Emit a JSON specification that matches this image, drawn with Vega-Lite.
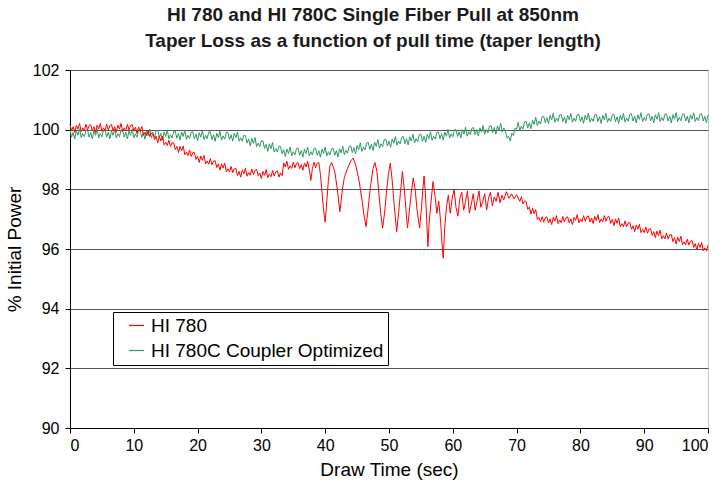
{
  "$schema": "https://vega.github.io/schema/vega-lite/v6.json",
  "width": 638,
  "height": 358,
  "autosize": "none",
  "padding": {"left": 70, "top": 70, "right": 14, "bottom": 59},
  "background": "white",
  "title": {
    "text": ["HI 780 and HI 780C Single Fiber Pull at 850nm", "Taper Loss as a function of pull time (taper length)"],
    "font": "Liberation Sans",
    "fontSize": 19,
    "fontWeight": "bold",
    "color": "#1a1a1a",
    "lineHeight": 26,
    "anchor": "middle",
    "frame": "group",
    "dx": -16,
    "offset": 11
  },
  "config": {
    "view": {"stroke": "#c8c8c8", "strokeWidth": 1},
    "axis": {
      "labelFont": "Liberation Sans",
      "titleFont": "Liberation Sans",
      "labelFontSize": 16,
      "titleFontSize": 19,
      "titleFontWeight": "normal",
      "labelColor": "#000",
      "titleColor": "#000",
      "domainColor": "#000",
      "tickColor": "#000",
      "tickSize": 5
    },
    "legend": {"labelFont": "Liberation Sans"}
  },
  "datasets": {
    "red": [
      {"t":0,"p":100.17},{"t":0.25,"p":99.96},{"t":0.5,"p":100.10},{"t":0.75,"p":99.91},{"t":1,"p":100.15},{"t":1.25,"p":100.02},{"t":1.5,"p":100.21},{"t":1.75,"p":99.94},{"t":2,"p":100.06},{"t":2.25,"p":99.97},{"t":2.5,"p":100.18},{"t":2.75,"p":99.99},{"t":3,"p":100.14},
      {"t":3.25,"p":100.17},{"t":3.5,"p":99.96},{"t":3.75,"p":100.10},{"t":4,"p":99.91},{"t":4.25,"p":100.15},{"t":4.5,"p":100.02},{"t":4.75,"p":100.21},{"t":5,"p":99.94},{"t":5.25,"p":100.06},{"t":5.5,"p":99.97},{"t":5.75,"p":100.18},{"t":6,"p":99.99},{"t":6.25,"p":100.14},
      {"t":6.5,"p":100.17},{"t":6.75,"p":99.96},{"t":7,"p":100.10},{"t":7.25,"p":99.91},{"t":7.5,"p":100.15},{"t":7.75,"p":100.02},{"t":8,"p":100.21},{"t":8.25,"p":99.94},{"t":8.5,"p":100.06},{"t":8.75,"p":99.97},{"t":9,"p":100.18},{"t":9.25,"p":99.99},{"t":9.5,"p":100.14},
      {"t":9.75,"p":100.17},{"t":10,"p":99.96},{"t":10.25,"p":100.08},{"t":10.5,"p":99.87},{"t":10.75,"p":100.09},{"t":11,"p":99.94},{"t":11.25,"p":100.11},{"t":11.5,"p":99.81},{"t":11.75,"p":99.91},{"t":12,"p":99.80},
      {"t":12.25,"p":99.98},{"t":12.5,"p":99.77},{"t":12.75,"p":99.89},{"t":13,"p":99.90},{"t":13.25,"p":99.66},{"t":13.5,"p":99.78},{"t":13.75,"p":99.56},{"t":14,"p":99.78},{"t":14.25,"p":99.62},{"t":14.5,"p":99.78},{"t":14.75,"p":99.49},{"t":15,"p":99.58},{"t":15.25,"p":99.47},{"t":15.5,"p":99.65},{"t":15.75,"p":99.44},{"t":16,"p":99.56},
      {"t":16.25,"p":99.56},{"t":16.5,"p":99.33},{"t":16.75,"p":99.44},{"t":17,"p":99.23},{"t":17.25,"p":99.44},{"t":17.5,"p":99.29},{"t":17.75,"p":99.45},{"t":18,"p":99.16},{"t":18.25,"p":99.25},{"t":18.5,"p":99.13},{"t":18.75,"p":99.32},{"t":19,"p":99.10},{"t":19.25,"p":99.23},{"t":19.5,"p":99.23},{"t":19.75,"p":99.00},{"t":20,"p":99.11},
      {"t":20.25,"p":98.90},{"t":20.5,"p":99.12},{"t":20.75,"p":98.97},{"t":21,"p":99.14},{"t":21.25,"p":98.85},{"t":21.5,"p":98.95},{"t":21.75,"p":98.84},{"t":22,"p":99.03},{"t":22.25,"p":98.82},{"t":22.5,"p":98.95},{"t":22.75,"p":98.96},{"t":23,"p":98.73},
      {"t":23.25,"p":98.85},{"t":23.5,"p":98.64},{"t":23.75,"p":98.86},{"t":24,"p":98.71},{"t":24.25,"p":98.88},{"t":24.5,"p":98.59},{"t":24.75,"p":98.69},{"t":25,"p":98.58},{"t":25.25,"p":98.77},{"t":25.5,"p":98.56},{"t":25.75,"p":98.69},{"t":26,"p":98.70},
      {"t":26.25,"p":98.46},{"t":26.5,"p":98.60},{"t":26.75,"p":98.41},{"t":27,"p":98.65},{"t":27.25,"p":98.52},{"t":27.5,"p":98.71},{"t":27.75,"p":98.44},{"t":28,"p":98.56},{"t":28.25,"p":98.47},{"t":28.5,"p":98.68},{"t":28.75,"p":98.49},{"t":29,"p":98.64},{"t":29.25,"p":98.67},{"t":29.5,"p":98.46},
      {"t":29.75,"p":98.55},{"t":30,"p":98.36},{"t":30.25,"p":98.60},{"t":30.5,"p":98.47},{"t":30.75,"p":98.66},{"t":31,"p":98.39},{"t":31.25,"p":98.51},{"t":31.5,"p":98.42},{"t":31.75,"p":98.63},{"t":32,"p":98.44},{"t":32.25,"p":98.59},{"t":32.5,"p":98.62},{"t":32.75,"p":98.41},{"t":33,"p":98.55},
      {"t":33.25,"p":98.46},{"t":33.5,"p":98.88},{"t":33.75,"p":98.75},{"t":34,"p":98.94},{"t":34.25,"p":98.67},{"t":34.5,"p":98.79},{"t":34.75,"p":98.70},{"t":35,"p":98.91},{"t":35.25,"p":98.72},{"t":35.5,"p":98.87},{"t":35.75,"p":98.90},{"t":36,"p":98.69},
      {"t":36.25,"p":98.83},{"t":36.5,"p":98.64},{"t":36.75,"p":98.88},{"t":37,"p":98.75},{"t":37.25,"p":98.94},{"t":37.5,"p":98.67},{"t":37.75,"p":98.30},{"t":38,"p":98.70},{"t":38.25,"p":98.91},{"t":38.5,"p":98.72},{"t":38.75,"p":98.87},{"t":39,"p":98.90},
      {"t":39.25,"p":98.5},{"t":39.5,"p":97.9},{"t":39.75,"p":97.3},{"t":40.0,"p":96.9},{"t":40.25,"p":97.6},{"t":40.5,"p":98.3},{"t":40.75,"p":98.8},{"t":41.0,"p":98.9},{"t":41.5,"p":98.6},{"t":41.9,"p":98.0},{"t":42.3,"p":97.25},{"t":42.7,"p":98.0},{"t":43.0,"p":98.4},{"t":43.5,"p":98.7},{"t":44.0,"p":98.95},{"t":44.4,"p":99.05},{"t":44.8,"p":98.8},{"t":45.3,"p":98.3},{"t":45.8,"p":97.6},{"t":46.1,"p":97.1},
      {"t":46.4,"p":96.75},{"t":46.7,"p":97.3},{"t":47.1,"p":98.1},{"t":47.5,"p":98.7},{"t":47.8,"p":98.9},{"t":48.1,"p":98.6},{"t":48.4,"p":97.9},{"t":48.7,"p":97.2},{"t":49.0,"p":96.7},{"t":49.3,"p":97.2},{"t":49.6,"p":97.9},{"t":49.9,"p":98.5},{"t":50.2,"p":98.88},{"t":50.5,"p":98.3},{"t":50.8,"p":97.5},{"t":51.2,"p":96.58},{"t":51.5,"p":97.2},{"t":51.8,"p":97.9},{"t":52.1,"p":98.6},{"t":52.4,"p":98.0},
      {"t":52.7,"p":97.2},{"t":52.9,"p":96.7},{"t":53.2,"p":97.3},{"t":53.5,"p":97.9},{"t":53.8,"p":98.38},{"t":54.1,"p":98.0},{"t":54.4,"p":97.3},{"t":54.8,"p":96.7},{"t":55.1,"p":97.4},{"t":55.3,"p":98.0},{"t":55.5,"p":98.45},{"t":55.7,"p":97.9},{"t":55.9,"p":97.0},{"t":56.1,"p":96.08},{"t":56.3,"p":96.9},{"t":56.6,"p":97.6},{"t":56.9,"p":98.26},{"t":57.2,"p":97.8},{"t":57.5,"p":97.2},{"t":57.8,"p":97.6},
      {"t":58.1,"p":96.9},{"t":58.3,"p":96.2},{"t":58.5,"p":95.69},{"t":58.7,"p":96.6},{"t":59.0,"p":97.4},{"t":59.3,"p":97.8},{"t":59.6,"p":97.2},{"t":59.9,"p":97.7},{"t":60.2,"p":98.0},{"t":60.5,"p":97.4},{"t":60.8,"p":97.1},{"t":61.1,"p":97.7},{"t":61.4,"p":97.9},{"t":61.7,"p":97.3},{"t":62.0,"p":97.6},{"t":62.3,"p":97.95},{"t":62.6,"p":97.2},{"t":62.9,"p":97.5},{"t":63.2,"p":97.85},{"t":63.5,"p":97.3},
      {"t":63.8,"p":97.6},{"t":64.1,"p":97.95},{"t":64.4,"p":97.4},{"t":64.7,"p":97.6},{"t":65.0,"p":97.85},{"t":65.3,"p":97.3},{"t":65.6,"p":97.7},{"t":65.9,"p":97.9},{"t":66.2,"p":97.45},{"t":66.5,"p":97.75},{"t":66.8,"p":97.6},{"t":67.1,"p":97.9},{"t":67.4,"p":97.55},{"t":67.7,"p":97.8},{"t":68.0,"p":97.65},{"t":68.4,"p":97.92},{"t":68.8,"p":97.7},{"t":69.2,"p":97.85},{"t":69.6,"p":97.68},{"t":70.0,"p":97.82},
      {"t":70.5,"p":97.60},{"t":70.75,"p":97.75},{"t":71,"p":97.51},{"t":71.25,"p":97.61},{"t":71.5,"p":97.59},{"t":71.75,"p":97.33},{"t":72,"p":97.41},{"t":72.25,"p":97.17},{"t":72.5,"p":97.36},{"t":72.75,"p":97.18},{"t":73,"p":97.32},{"t":73.25,"p":96.99},{"t":73.5,"p":97.06},{"t":73.75,"p":96.92},{"t":74,"p":97.08},
      {"t":74.25,"p":96.90},{"t":74.5,"p":97.05},{"t":74.75,"p":97.08},{"t":75,"p":96.87},{"t":75.25,"p":97.01},{"t":75.5,"p":96.82},{"t":75.75,"p":97.06},{"t":76,"p":96.93},{"t":76.25,"p":97.12},{"t":76.5,"p":96.85},{"t":76.75,"p":96.97},{"t":77,"p":96.88},{"t":77.25,"p":97.09},{"t":77.5,"p":96.90},{"t":77.75,"p":97.05},{"t":78,"p":97.08},{"t":78.25,"p":96.87},{"t":78.5,"p":97.01},{"t":78.75,"p":96.82},{"t":79,"p":97.06},
      {"t":79.25,"p":96.96},{"t":79.5,"p":97.15},{"t":79.75,"p":96.88},{"t":80,"p":97.00},{"t":80.25,"p":96.91},{"t":80.5,"p":97.12},{"t":80.75,"p":96.93},{"t":81,"p":97.08},{"t":81.25,"p":97.11},{"t":81.5,"p":96.90},{"t":81.75,"p":97.04},{"t":82,"p":96.85},{"t":82.25,"p":97.09},{"t":82.5,"p":96.96},{"t":82.75,"p":97.15},{"t":83,"p":96.88},{"t":83.25,"p":97.00},{"t":83.5,"p":96.91},{"t":83.75,"p":97.12},{"t":84,"p":96.93},
      {"t":84.25,"p":97.07},{"t":84.5,"p":97.09},{"t":84.75,"p":96.86},{"t":85,"p":96.99},{"t":85.25,"p":96.78},{"t":85.5,"p":97.01},{"t":85.75,"p":96.86},{"t":86,"p":97.04},{"t":86.25,"p":96.75},{"t":86.5,"p":96.85},{"t":86.75,"p":96.75},{"t":87,"p":96.94},{"t":87.25,"p":96.74},{"t":87.5,"p":96.87},{"t":87.75,"p":96.89},{"t":88,"p":96.66},
      {"t":88.25,"p":96.78},{"t":88.5,"p":96.58},{"t":88.75,"p":96.80},{"t":89,"p":96.66},{"t":89.25,"p":96.83},{"t":89.5,"p":96.55},{"t":89.75,"p":96.65},{"t":90,"p":96.55},{"t":90.25,"p":96.74},{"t":90.5,"p":96.53},{"t":90.75,"p":96.67},{"t":91,"p":96.68},{"t":91.25,"p":96.46},{"t":91.5,"p":96.58},{"t":91.75,"p":96.38},{"t":92,"p":96.60},
      {"t":92.25,"p":96.45},{"t":92.5,"p":96.63},{"t":92.75,"p":96.34},{"t":93,"p":96.45},{"t":93.25,"p":96.34},{"t":93.5,"p":96.54},{"t":93.75,"p":96.33},{"t":94,"p":96.47},{"t":94.25,"p":96.48},{"t":94.5,"p":96.25},{"t":94.75,"p":96.38},{"t":95,"p":96.17},{"t":95.25,"p":96.40},{"t":95.5,"p":96.25},{"t":95.75,"p":96.43},{"t":96,"p":96.14},
      {"t":96.25,"p":96.24},{"t":96.5,"p":96.14},{"t":96.75,"p":96.33},{"t":97,"p":96.13},{"t":97.25,"p":96.26},{"t":97.5,"p":96.28},{"t":97.75,"p":96.05},{"t":98,"p":96.18},{"t":98.25,"p":95.97},{"t":98.5,"p":96.19},{"t":98.75,"p":96.05},{"t":99,"p":96.22},{"t":99.25,"p":95.94},{"t":99.5,"p":96.04},{"t":99.75,"p":95.94},{"t":100,"p":96.13}
    ],
    "green": [
      {"t":0,"p":99.99},{"t":0.25,"p":99.75},{"t":0.5,"p":99.91},{"t":0.75,"p":99.69},{"t":1,"p":99.96},{"t":1.25,"p":99.81},{"t":1.5,"p":100.03},{"t":1.75,"p":99.73},{"t":2,"p":99.87},{"t":2.25,"p":99.76},{"t":2.5,"p":99.98},
      {"t":2.75,"p":99.99},{"t":3,"p":99.75},{"t":3.25,"p":99.91},{"t":3.5,"p":99.69},{"t":3.75,"p":99.96},{"t":4,"p":99.81},{"t":4.25,"p":100.03},{"t":4.5,"p":99.73},{"t":4.75,"p":99.87},{"t":5,"p":99.76},{"t":5.25,"p":99.98},
      {"t":5.5,"p":99.99},{"t":5.75,"p":99.75},{"t":6,"p":99.91},{"t":6.25,"p":99.69},{"t":6.5,"p":99.96},{"t":6.75,"p":99.81},{"t":7,"p":100.03},{"t":7.25,"p":99.73},{"t":7.5,"p":99.87},{"t":7.75,"p":99.76},{"t":8,"p":99.98},
      {"t":8.25,"p":99.99},{"t":8.5,"p":99.75},{"t":8.75,"p":99.91},{"t":9,"p":99.69},{"t":9.25,"p":99.96},{"t":9.5,"p":99.81},{"t":9.75,"p":100.03},{"t":10,"p":99.73},
      {"t":10.25,"p":99.86},{"t":10.5,"p":99.75},{"t":10.75,"p":99.97},{"t":11,"p":99.98},{"t":11.25,"p":99.74},{"t":11.5,"p":99.90},{"t":11.75,"p":99.68},{"t":12,"p":99.95},{"t":12.25,"p":99.80},{"t":12.5,"p":100.02},{"t":12.75,"p":99.72},{"t":13,"p":99.86},{"t":13.25,"p":99.75},{"t":13.5,"p":99.97},{"t":13.75,"p":99.98},{"t":14,"p":99.74},
      {"t":14.25,"p":99.87},{"t":14.5,"p":99.65},{"t":14.75,"p":99.92},{"t":15,"p":99.77},{"t":15.25,"p":99.99},{"t":15.5,"p":99.69},{"t":15.75,"p":99.83},{"t":16,"p":99.72},{"t":16.25,"p":99.94},{"t":16.5,"p":99.95},{"t":16.75,"p":99.71},{"t":17,"p":99.87},{"t":17.25,"p":99.65},{"t":17.5,"p":99.92},{"t":17.75,"p":99.77},{"t":18,"p":99.99},
      {"t":18.25,"p":99.67},{"t":18.5,"p":99.81},{"t":18.75,"p":99.70},{"t":19,"p":99.92},{"t":19.25,"p":99.93},{"t":19.5,"p":99.69},{"t":19.75,"p":99.85},{"t":20,"p":99.63},{"t":20.25,"p":99.90},{"t":20.5,"p":99.75},{"t":20.75,"p":99.97},{"t":21,"p":99.67},{"t":21.25,"p":99.81},{"t":21.5,"p":99.70},{"t":21.75,"p":99.92},{"t":22,"p":99.93},
      {"t":22.25,"p":99.67},{"t":22.5,"p":99.83},{"t":22.75,"p":99.61},{"t":23,"p":99.88},{"t":23.25,"p":99.73},{"t":23.5,"p":99.95},{"t":23.75,"p":99.65},{"t":24,"p":99.79},{"t":24.25,"p":99.68},{"t":24.5,"p":99.90},{"t":24.75,"p":99.91},{"t":25,"p":99.67},{"t":25.25,"p":99.83},{"t":25.5,"p":99.61},{"t":25.75,"p":99.88},{"t":26,"p":99.73},
      {"t":26.25,"p":99.92},{"t":26.5,"p":99.61},{"t":26.75,"p":99.73},{"t":27,"p":99.61},{"t":27.25,"p":99.81},{"t":27.5,"p":99.80},{"t":27.75,"p":99.55},{"t":28,"p":99.69},{"t":28.25,"p":99.45},{"t":28.5,"p":99.71},{"t":28.75,"p":99.54},{"t":29,"p":99.74},{"t":29.25,"p":99.43},{"t":29.5,"p":99.55},{"t":29.75,"p":99.43},{"t":30,"p":99.63},
      {"t":30.25,"p":99.62},{"t":30.5,"p":99.37},{"t":30.75,"p":99.51},{"t":31,"p":99.27},{"t":31.25,"p":99.53},{"t":31.5,"p":99.36},{"t":31.75,"p":99.57},{"t":32,"p":99.25},{"t":32.25,"p":99.37},{"t":32.5,"p":99.25},{"t":32.75,"p":99.45},{"t":33,"p":99.44},{"t":33.25,"p":99.19},{"t":33.5,"p":99.33},{"t":33.75,"p":99.10},{"t":34,"p":99.35},
      {"t":34.25,"p":99.20},{"t":34.5,"p":99.42},{"t":34.75,"p":99.12},{"t":35,"p":99.26},{"t":35.25,"p":99.15},{"t":35.5,"p":99.37},{"t":35.75,"p":99.38},{"t":36,"p":99.14},{"t":36.25,"p":99.30},{"t":36.5,"p":99.08},{"t":36.75,"p":99.35},{"t":37,"p":99.20},{"t":37.25,"p":99.42},{"t":37.5,"p":99.12},{"t":37.75,"p":99.26},{"t":38,"p":99.15},
      {"t":38.25,"p":99.37},{"t":38.5,"p":99.38},{"t":38.75,"p":99.14},{"t":39,"p":99.30},{"t":39.25,"p":99.08},{"t":39.5,"p":99.35},{"t":39.75,"p":99.20},{"t":40,"p":99.42},{"t":40.25,"p":99.12},{"t":40.5,"p":99.26},{"t":40.75,"p":99.15},{"t":41,"p":99.37},{"t":41.25,"p":99.38},{"t":41.5,"p":99.14},{"t":41.75,"p":99.30},{"t":42,"p":99.08},
      {"t":42.25,"p":99.36},{"t":42.5,"p":99.22},{"t":42.75,"p":99.45},{"t":43,"p":99.16},{"t":43.25,"p":99.31},{"t":43.5,"p":99.21},{"t":43.75,"p":99.44},{"t":44,"p":99.46},{"t":44.25,"p":99.23},{"t":44.5,"p":99.40},{"t":44.75,"p":99.19},{"t":45,"p":99.47},{"t":45.25,"p":99.33},{"t":45.5,"p":99.56},{"t":45.75,"p":99.27},{"t":46,"p":99.42},
      {"t":46.25,"p":99.32},{"t":46.5,"p":99.55},{"t":46.75,"p":99.57},{"t":47,"p":99.34},{"t":47.25,"p":99.51},{"t":47.5,"p":99.30},{"t":47.75,"p":99.58},{"t":48,"p":99.44},{"t":48.25,"p":99.67},{"t":48.5,"p":99.38},{"t":48.75,"p":99.53},{"t":49,"p":99.43},{"t":49.25,"p":99.66},{"t":49.5,"p":99.68},{"t":49.75,"p":99.45},{"t":50,"p":99.62},
      {"t":50.25,"p":99.41},{"t":50.5,"p":99.68},{"t":50.75,"p":99.54},{"t":51,"p":99.77},{"t":51.25,"p":99.48},{"t":51.5,"p":99.62},{"t":51.75,"p":99.52},{"t":52,"p":99.75},{"t":52.25,"p":99.77},{"t":52.5,"p":99.53},{"t":52.75,"p":99.70},{"t":53,"p":99.49},{"t":53.25,"p":99.76},{"t":53.5,"p":99.62},{"t":53.75,"p":99.85},{"t":54,"p":99.56},
      {"t":54.25,"p":99.70},{"t":54.5,"p":99.60},{"t":54.75,"p":99.83},{"t":55,"p":99.85},{"t":55.25,"p":99.61},{"t":55.5,"p":99.78},{"t":55.75,"p":99.57},{"t":56,"p":99.84},{"t":56.25,"p":99.70},{"t":56.5,"p":99.93},{"t":56.75,"p":99.64},{"t":57,"p":99.78},{"t":57.25,"p":99.68},{"t":57.5,"p":99.91},{"t":57.75,"p":99.92},{"t":58,"p":99.69},
      {"t":58.25,"p":99.86},{"t":58.5,"p":99.65},{"t":58.75,"p":99.92},{"t":59,"p":99.78},{"t":59.25,"p":100.01},{"t":59.5,"p":99.72},{"t":59.75,"p":99.86},{"t":60,"p":99.76},
      {"t":60.25,"p":99.99},{"t":60.5,"p":100.00},{"t":60.75,"p":99.77},{"t":61,"p":99.93},{"t":61.25,"p":99.72},{"t":61.5,"p":100.00},{"t":61.75,"p":99.85},{"t":62,"p":100.08},{"t":62.25,"p":99.78},{"t":62.5,"p":99.93},{"t":62.75,"p":99.83},{"t":63,"p":100.05},{"t":63.25,"p":100.07},{"t":63.5,"p":99.83},{"t":63.75,"p":100.00},{"t":64,"p":99.79},
      {"t":64.25,"p":100.06},{"t":64.5,"p":99.92},{"t":64.75,"p":100.14},{"t":65,"p":99.85},{"t":65.25,"p":100.00},{"t":65.5,"p":99.89},{"t":65.75,"p":100.12},{"t":66,"p":100.13},{"t":66.25,"p":99.90},{"t":66.5,"p":100.07},{"t":66.75,"p":99.85},{"t":67,"p":100.13},{"t":67.25,"p":99.98},{"t":67.5,"p":100.21},{"t":67.75,"p":99.92},{"t":68,"p":100.06},
      {"t":68.25,"p":99.95},{"t":68.5,"p":99.72},{"t":68.75,"p":99.78},{"t":69,"p":99.62},{"t":69.25,"p":99.88},{"t":69.5,"p":99.80},{"t":69.75,"p":100.06},{"t":70,"p":100.01},
      {"t":70.25,"p":100.25},{"t":70.5,"p":99.96},{"t":70.75,"p":100.12},{"t":71,"p":100.02},{"t":71.25,"p":100.26},{"t":71.5,"p":100.28},{"t":71.75,"p":100.06},{"t":72,"p":100.23},{"t":72.25,"p":100.03},{"t":72.5,"p":100.32},{"t":72.75,"p":100.18},{"t":73,"p":100.42},{"t":73.25,"p":100.13},{"t":73.5,"p":100.29},{"t":73.75,"p":100.19},{"t":74,"p":100.43},{"t":74.25,"p":100.45},{"t":74.5,"p":100.23},{"t":74.75,"p":100.40},{"t":75,"p":100.20},
      {"t":75.25,"p":100.48},{"t":75.5,"p":100.33},{"t":75.75,"p":100.55},{"t":76,"p":100.25},{"t":76.25,"p":100.39},{"t":76.5,"p":100.28},{"t":76.75,"p":100.50},{"t":77,"p":100.51},{"t":77.25,"p":100.27},{"t":77.5,"p":100.43},{"t":77.75,"p":100.21},
      {"t":78,"p":100.48},{"t":78.25,"p":100.33},{"t":78.5,"p":100.55},{"t":78.75,"p":100.25},{"t":79,"p":100.39},{"t":79.25,"p":100.28},{"t":79.5,"p":100.50},{"t":79.75,"p":100.51},{"t":80,"p":100.27},{"t":80.25,"p":100.43},{"t":80.5,"p":100.21},
      {"t":80.75,"p":100.48},{"t":81,"p":100.33},{"t":81.25,"p":100.55},{"t":81.5,"p":100.25},{"t":81.75,"p":100.39},{"t":82,"p":100.28},{"t":82.25,"p":100.50},{"t":82.5,"p":100.51},{"t":82.75,"p":100.27},{"t":83,"p":100.43},{"t":83.25,"p":100.21},
      {"t":83.5,"p":100.48},{"t":83.75,"p":100.33},{"t":84,"p":100.55},{"t":84.25,"p":100.25},{"t":84.5,"p":100.39},{"t":84.75,"p":100.28},{"t":85,"p":100.50},{"t":85.25,"p":100.51},{"t":85.5,"p":100.27},{"t":85.75,"p":100.43},{"t":86,"p":100.21},
      {"t":86.25,"p":100.48},{"t":86.5,"p":100.33},{"t":86.75,"p":100.55},{"t":87,"p":100.25},{"t":87.25,"p":100.39},{"t":87.5,"p":100.28},
      {"t":87.75,"p":100.52},{"t":88,"p":100.53},{"t":88.25,"p":100.29},{"t":88.5,"p":100.45},{"t":88.75,"p":100.23},{"t":89,"p":100.50},{"t":89.25,"p":100.35},{"t":89.5,"p":100.57},{"t":89.75,"p":100.27},{"t":90,"p":100.41},{"t":90.25,"p":100.30},
      {"t":90.5,"p":100.52},{"t":90.75,"p":100.53},{"t":91,"p":100.29},{"t":91.25,"p":100.45},{"t":91.5,"p":100.23},{"t":91.75,"p":100.50},{"t":92,"p":100.35},{"t":92.25,"p":100.57},{"t":92.5,"p":100.27},{"t":92.75,"p":100.41},{"t":93,"p":100.30},
      {"t":93.25,"p":100.52},{"t":93.5,"p":100.53},{"t":93.75,"p":100.29},{"t":94,"p":100.45},{"t":94.25,"p":100.23},{"t":94.5,"p":100.50},{"t":94.75,"p":100.35},{"t":95,"p":100.57},{"t":95.25,"p":100.27},{"t":95.5,"p":100.41},{"t":95.75,"p":100.30},
      {"t":96,"p":100.52},{"t":96.25,"p":100.53},{"t":96.5,"p":100.29},{"t":96.75,"p":100.45},{"t":97,"p":100.23},{"t":97.25,"p":100.50},{"t":97.5,"p":100.35},{"t":97.75,"p":100.57},{"t":98,"p":100.27},{"t":98.25,"p":100.41},{"t":98.5,"p":100.30},
      {"t":98.75,"p":100.52},{"t":99,"p":100.53},{"t":99.25,"p":100.29},{"t":99.5,"p":100.45},{"t":99.75,"p":100.23},{"t":100,"p":100.50}
    ]
  },
  "encoding": {
    "x": {
      "field": "t",
      "type": "quantitative",
      "scale": {"domain": [0, 100], "nice": false},
      "axis": {"values": [0,10,20,30,40,50,60,70,80,90,100], "grid": false, "title": "Draw Time (sec)", "labelPadding": 4, "titlePadding": 7}
    },
    "y": {
      "field": "p",
      "type": "quantitative",
      "scale": {"domain": [90, 102], "nice": false, "zero": false},
      "axis": {"values": [90,92,94,96,98,100,102], "grid": true, "gridColor": "#555555", "gridOpacity": 1, "title": "% Initial Power", "labelPadding": 6, "titlePadding": 8}
    }
  },
  "layer": [
    {
      "data": {"name": "green"},
      "mark": {"type": "line", "strokeWidth": 1, "interpolate": "linear"},
      "encoding": {
        "color": {
          "datum": "HI 780C Coupler Optimized",
          "scale": {"domain": ["HI 780", "HI 780C Coupler Optimized"], "range": ["#ff0000", "#2e9a60"]},
          "legend": {
            "orient": "none",
            "legendX": 43,
            "legendY": 242,
            "title": null,
            "direction": "vertical",
            "strokeColor": "#000",
            "fillColor": "#fff",
            "padding": 4,
            "symbolOffset": 10,
            "symbolType": "stroke",
            "symbolSize": 225,
            "symbolStrokeWidth": 1.2,
            "labelFontSize": 19,
            "labelLimit": 500,
            "labelColor": "#000",
            "labelOffset": 5,
            "rowPadding": 5
          }
        }
      }
    },
    {
      "data": {"name": "red"},
      "mark": {"type": "line", "strokeWidth": 1, "interpolate": "linear"},
      "encoding": {"color": {"datum": "HI 780"}}
    }
  ]
}
